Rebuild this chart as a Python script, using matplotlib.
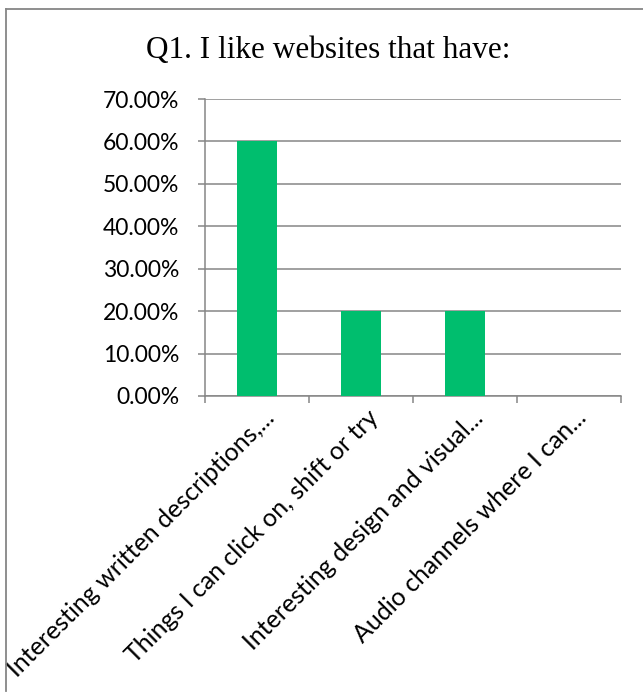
import numpy as np
import matplotlib.pyplot as plt
from matplotlib.lines import Line2D
from matplotlib.transforms import ScaledTranslation
from matplotlib.ticker import FuncFormatter, FixedLocator

# survey results, Q1
categories = [
    "Interesting written descriptions,...",
    "Things I can click on, shift or try",
    "Interesting design and visual...",
    "Audio channels where I can...",
]
shares = [0.60, 0.20, 0.20, 0.0]
y_ticks = [0.0, 0.1, 0.2, 0.3, 0.4, 0.5, 0.6, 0.7]

GREEN = "#00BE6E"
GRAY = "#868686"

fig = plt.figure(figsize=(6.43, 6.94), dpi=100)
ax = fig.add_axes([205 / 643, 1 - 396 / 694, 416 / 643, 297 / 694])

x = np.arange(len(categories))
ax.bar(x, shares, width=0.39, color=GREEN, zorder=3)

ax.set_xlim(-0.5, len(categories) - 0.5)
ax.set_ylim(0, 0.7)
ax.set_yticks(y_ticks)
ax.yaxis.set_major_formatter(FuncFormatter(lambda v, _: f"{v * 100:.2f}%"))
ax.grid(axis="y", color=GRAY, linewidth=1.1, zorder=0)

# category tick marks sit between the bars
ax.set_xticks(x)
ax.xaxis.set_minor_locator(FixedLocator(np.arange(len(categories) + 1) - 0.5))
ax.tick_params(axis="x", which="major", length=0, pad=0)
ax.tick_params(axis="x", which="minor", length=5, width=1.1, color=GRAY)
ax.tick_params(axis="y", length=5, width=1.1, color=GRAY, pad=13.5)

lbl_font = "Lato"
ax.set_xticklabels(categories, rotation=45, ha="right", va="center",
                   rotation_mode="anchor", fontsize=18, family=lbl_font)
shift = ScaledTranslation(14 / 100, -18 / 100, fig.dpi_scale_trans)
for t in ax.get_xticklabels():
    t.set_transform(t.get_transform() + shift)
for t in ax.get_yticklabels():
    t.set_fontsize(16.5)
    t.set_family(lbl_font)

for side in ("top", "right"):
    ax.spines[side].set_visible(False)
for side in ("left", "bottom"):
    ax.spines[side].set_color(GRAY)
    ax.spines[side].set_linewidth(1.1)

fig.text(328.5 / 643, 1 - 58 / 694, "Q1. I like websites that have:", ha="center",
         va="baseline", fontsize=22.5, family="Liberation Serif")

# chart frame
fig.add_artist(Line2D([6 / 643, 6 / 643], [1 - 9 / 694, 1 - 691 / 694],
                      transform=fig.transFigure, color=GRAY, linewidth=1.3))
fig.add_artist(Line2D([6 / 643, 1.0], [1 - 9 / 694, 1 - 9 / 694],
                      transform=fig.transFigure, color=GRAY, linewidth=1.3))

fig.savefig("out.png", dpi=100)
